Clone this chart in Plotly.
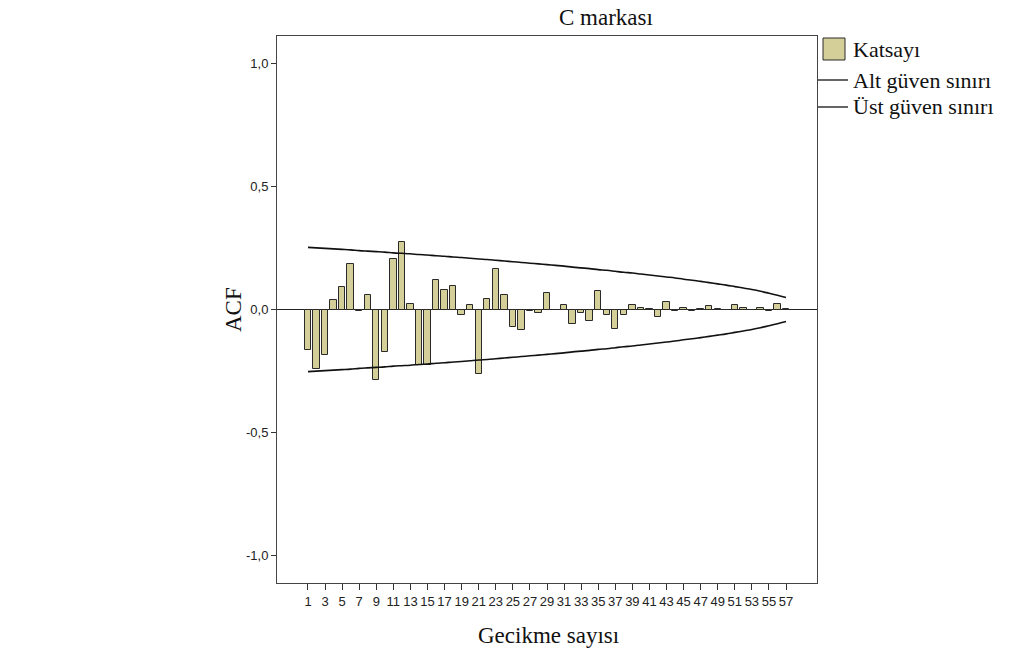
import plotly.graph_objects as go

lags = list(range(1, 58))
acf = [-0.164, -0.243, -0.186, 0.039, 0.090, 0.183, -0.006, 0.058, -0.286, -0.171,
       0.204, 0.273, 0.022, -0.225, -0.225, 0.118, 0.079, 0.097, -0.022, 0.019,
       -0.263, 0.041, 0.163, 0.058, -0.072, -0.082, -0.005, -0.013, 0.069, -0.003,
       0.020, -0.060, -0.016, -0.046, 0.076, -0.024, -0.079, -0.024, 0.020, 0.008,
       0.001, -0.029, 0.029, -0.006, 0.008, -0.006, 0.001, 0.013, 0.002, -0.002,
       0.020, 0.005, -0.003, 0.006, -0.006, 0.024, 0.001]
upper = [0.252, 0.250, 0.248, 0.246, 0.244, 0.242, 0.239, 0.237, 0.235, 0.233,
         0.230, 0.228, 0.226, 0.223, 0.221, 0.218, 0.216, 0.213, 0.211, 0.208,
         0.205, 0.203, 0.200, 0.197, 0.194, 0.191, 0.188, 0.185, 0.182, 0.179,
         0.176, 0.172, 0.169, 0.166, 0.162, 0.159, 0.155, 0.151, 0.148, 0.144,
         0.140, 0.136, 0.132, 0.128, 0.123, 0.119, 0.114, 0.109, 0.104, 0.099,
         0.093, 0.087, 0.081, 0.074, 0.066, 0.058, 0.049]
lower = [-v for v in upper]
xtick_vals = list(range(1, 58, 2))
ytick_vals = [-1.0, -0.5, 0.0, 0.5, 1.0]
ytick_text = ["-1,0", "-0,5", "0,0", "0,5", "1,0"]

bar_color = "#D4CF98"
serif = "Liberation Serif, Times New Roman, serif"
sans = "Liberation Sans, Arial, sans-serif"

L, R, T, B = 277, 817, 36, 583
W, H = R - L, B - T


def px(x):
    return (x - L) / W


def py(y):
    return (B - y) / H


fig = go.Figure()
fig.add_trace(go.Bar(x=lags, y=acf, width=0.75, name="Katsayı",
                     marker=dict(color=bar_color, line=dict(color="#2a2a2a", width=1)),
                     showlegend=False))
fig.add_trace(go.Scatter(x=lags, y=lower, mode="lines", name="Alt güven sınırı",
                         line=dict(color="#111", width=1.6, shape="spline"), showlegend=False))
fig.add_trace(go.Scatter(x=lags, y=upper, mode="lines", name="Üst güven sınırı",
                         line=dict(color="#111", width=1.6, shape="spline"), showlegend=False))

txt = dict(color="#111", family=serif)

fig.update_layout(
    width=1019, height=652,
    margin=dict(l=L, r=1019 - R, t=T, b=652 - B),
    paper_bgcolor="white", plot_bgcolor="white",
    bargap=0,
    xaxis=dict(range=[-2.63, 60.63], tickmode="array", tickvals=xtick_vals,
               ticks="outside", ticklen=6, tickwidth=1, tickcolor="#333",
               tickfont=dict(family=sans, size=13, color="#222"),
               showgrid=False, zeroline=False, showline=True, linecolor="#444",
               linewidth=1, mirror=True),
    yaxis=dict(range=[-1.11, 1.11], tickmode="array", tickvals=ytick_vals, ticktext=ytick_text,
               ticks="outside", ticklen=5, tickwidth=1, tickcolor="#333",
               tickfont=dict(family=sans, size=13, color="#222"),
               showgrid=False, zeroline=True, zerolinecolor="#222", zerolinewidth=1,
               showline=True, linecolor="#444", linewidth=1, mirror=True),
    annotations=[
        dict(text="C markası", xref="paper", yref="paper", x=px(606), y=py(17),
             xanchor="center", yanchor="middle", showarrow=False,
             font=dict(size=23, **txt)),
        dict(text="ACF", xref="paper", yref="paper", x=px(233), y=py(310),
             xanchor="center", yanchor="middle", showarrow=False, textangle=-90,
             font=dict(size=23, **txt)),
        dict(text="Gecikme sayısı", xref="paper", yref="paper", x=px(548), y=py(635),
             xanchor="center", yanchor="middle", showarrow=False,
             font=dict(size=23, **txt)),
        dict(text="Katsayı", xref="paper", yref="paper", x=px(851), y=py(49),
             xanchor="left", yanchor="middle", showarrow=False,
             font=dict(size=22, **txt)),
        dict(text="Alt güven sınırı", xref="paper", yref="paper", x=px(851), y=py(80),
             xanchor="left", yanchor="middle", showarrow=False,
             font=dict(size=22, **txt)),
        dict(text="Üst güven sınırı", xref="paper", yref="paper", x=px(851), y=py(107),
             xanchor="left", yanchor="middle", showarrow=False,
             font=dict(size=22, **txt)),
    ],
    shapes=[
        dict(type="rect", xref="paper", yref="paper",
             x0=px(823), x1=px(845), y0=py(60), y1=py(38),
             fillcolor=bar_color, line=dict(color="#2a2a2a", width=1)),
        dict(type="line", xref="paper", yref="paper",
             x0=px(818), x1=px(848), y0=py(80), y1=py(80),
             line=dict(color="#111", width=1.3)),
        dict(type="line", xref="paper", yref="paper",
             x0=px(818), x1=px(848), y0=py(107), y1=py(107),
             line=dict(color="#111", width=1.3)),
    ],
)

fig.write_html("out.html")
